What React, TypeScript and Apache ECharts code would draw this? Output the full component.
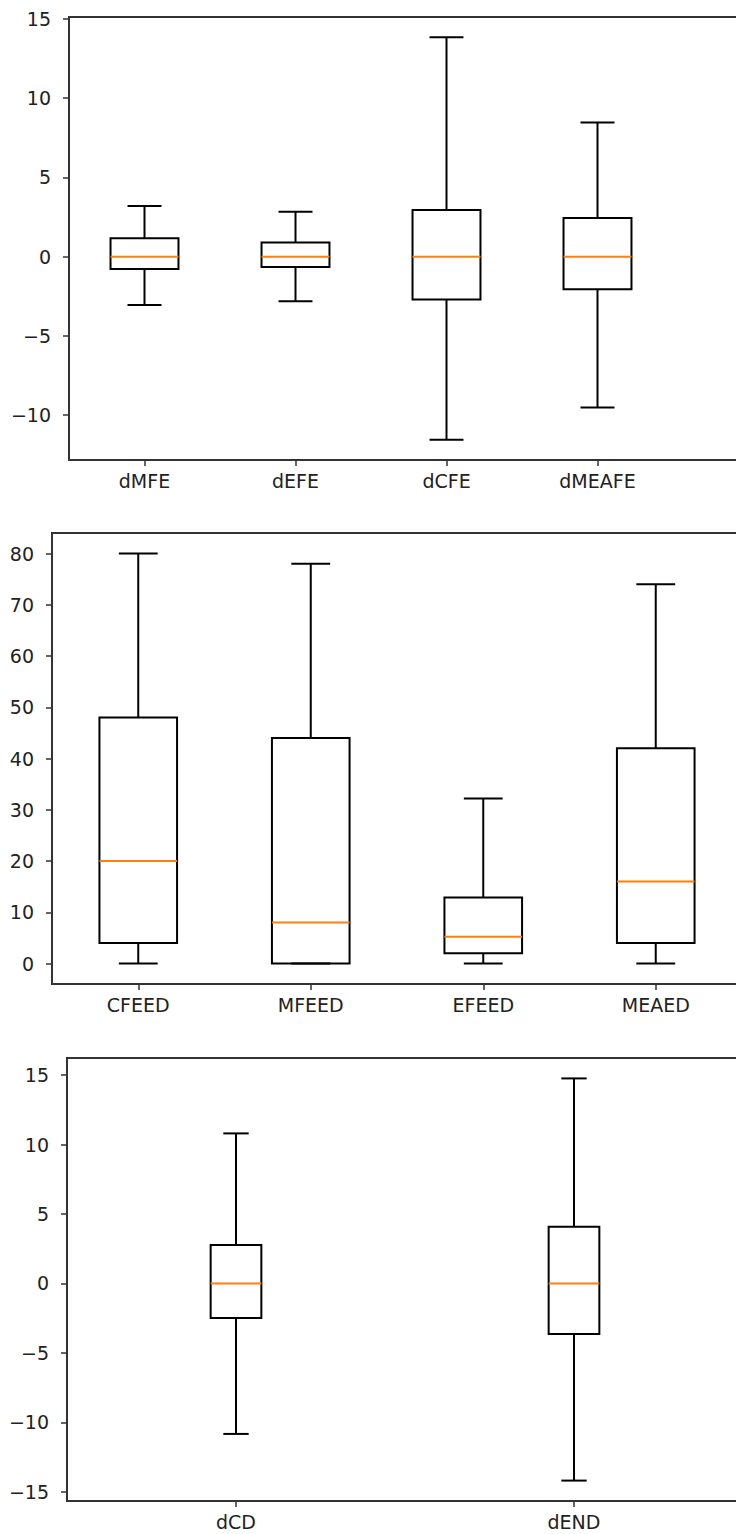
import React, { useEffect, useRef } from "react";
import * as echarts from "echarts";

// ---- Data (whisker low, Q1, median, Q3, whisker high) ----
const cats1 = ["dMFE", "dEFE", "dCFE", "dMEAFE"];
const stats1 = [
  [-3.05, -0.78, 0, 1.16, 3.2],
  [-2.82, -0.65, 0, 0.9, 2.84],
  [-11.56, -2.7, 0, 2.95, 13.85],
  [-9.51, -2.06, 0, 2.44, 8.46],
];
const ticks1 = [-10, -5, 0, 5, 10, 15];

const cats2 = ["CFEED", "MFEED", "EFEED", "MEAED"];
const stats2 = [
  [0, 4, 20, 48, 80],
  [0, 0, 8, 44, 78],
  [0, 2, 5.2, 12.9, 32.2],
  [0, 4, 16, 42, 74],
];
const ticks2 = [0, 10, 20, 30, 40, 50, 60, 70, 80];

const cats3 = ["dCD", "dEND"];
const stats3 = [
  [-10.84, -2.49, 0, 2.76, 10.8],
  [-14.2, -3.64, 0, 4.08, 14.76],
];
const ticks3 = [-15, -10, -5, 0, 5, 10, 15];

const FONT = "DejaVu Sans";
const FS = 19;

function makeRenderItem(frac: number) {
  return (params: any, api: any) => {
    const idx = api.value(0);
    const band = api.size([1, 0])[0];
    const w = band * frac;
    const cw = w / 2;
    const x = api.coord([idx, 0])[0];
    const yLow = api.coord([idx, api.value(1)])[1];
    const yQ1 = api.coord([idx, api.value(2)])[1];
    const yMed = api.coord([idx, api.value(3)])[1];
    const yQ3 = api.coord([idx, api.value(4)])[1];
    const yHigh = api.coord([idx, api.value(5)])[1];
    const st = { stroke: "#000", lineWidth: 2, fill: null };
    return {
      type: "group",
      children: [
        { type: "line", shape: { x1: x, y1: yQ3, x2: x, y2: yHigh }, style: st },
        { type: "line", shape: { x1: x, y1: yQ1, x2: x, y2: yLow }, style: st },
        { type: "line", shape: { x1: x - cw / 2, y1: yHigh, x2: x + cw / 2, y2: yHigh }, style: st },
        { type: "line", shape: { x1: x - cw / 2, y1: yLow, x2: x + cw / 2, y2: yLow }, style: st },
        {
          type: "rect",
          shape: { x: x - w / 2, y: yQ3, width: w, height: yQ1 - yQ3 },
          style: { stroke: "#000", lineWidth: 2, fill: "none" },
        },
        {
          type: "line",
          shape: { x1: x - w / 2, y1: yMed, x2: x + w / 2, y2: yMed },
          style: { stroke: "#ff7f0e", lineWidth: 2 },
        },
      ],
    };
  };
}

const fmt = (v: number) => String(v).replace("-", "\u2212");

export default function App() {
  const ref = useRef<HTMLDivElement>(null);
  useEffect(() => {
    if (!ref.current) return;
    const chart = echarts.init(ref.current, null, { renderer: "svg" });
    const grids = [
      { left: 69, top: 17, width: 151 * 5, height: 443 },
      { left: 52, top: 533, width: 172.5 * 4, height: 451 },
      { left: 67, top: 1058, width: 338 * 2, height: 443 },
    ].map((g) => ({ ...g, show: true, borderColor: "#333", borderWidth: 2, backgroundColor: "transparent" }));

    const xCats = [[...cats1, ""], cats2, cats3];
    const yR = [
      [-12.83, 15.12],
      [-4, 84],
      [-15.67, 16.23],
    ];
    const yTicks = [ticks1, ticks2, ticks3];
    const statsAll = [stats1, stats2, stats3];
    const fracs = [0.45, 0.45, 0.15];

    const axisCommon = {
      axisLine: { show: true, onZero: false, lineStyle: { color: "#333", width: 2 } },
      axisTick: { show: true, length: 6, lineStyle: { color: "#333", width: 1.5 } },
      splitLine: { show: false },
    };

    chart.setOption({
      animation: false,
      backgroundColor: "#fff",
      grid: grids,
      xAxis: xCats.map((c, i) => ({
        type: "category",
        gridIndex: i,
        data: c,
        ...axisCommon,
        axisTick: { ...axisCommon.axisTick, alignWithLabel: true },
        axisLabel: { color: "#222", fontFamily: FONT, fontSize: FS, margin: 11, interval: 0 },
      })),
      yAxis: yR.map((r, i) => ({
        type: "value",
        gridIndex: i,
        min: r[0],
        max: r[1],
        ...axisCommon,
        axisTick: { ...axisCommon.axisTick, customValues: yTicks[i] },
        axisLabel: {
          color: "#222",
          fontFamily: FONT,
          fontSize: FS,
          margin: 18,
          customValues: yTicks[i],
          formatter: fmt,
        },
      })),
      series: statsAll.map((s, i) => ({
        type: "custom",
        xAxisIndex: i,
        yAxisIndex: i,
        renderItem: makeRenderItem(fracs[i]),
        encode: { x: 0, y: [1, 2, 3, 4, 5] },
        data: s.map((row, k) => [k, ...row]),
        clip: false,
      })),
    });
    return () => chart.dispose();
  }, []);
  return (
    <div style={{ position: "absolute", left: 0, top: 0, width: 736, height: 1534, overflow: "hidden" }}>
      <div ref={ref} style={{ width: 900, height: 1534 }} />
    </div>
  );
}
